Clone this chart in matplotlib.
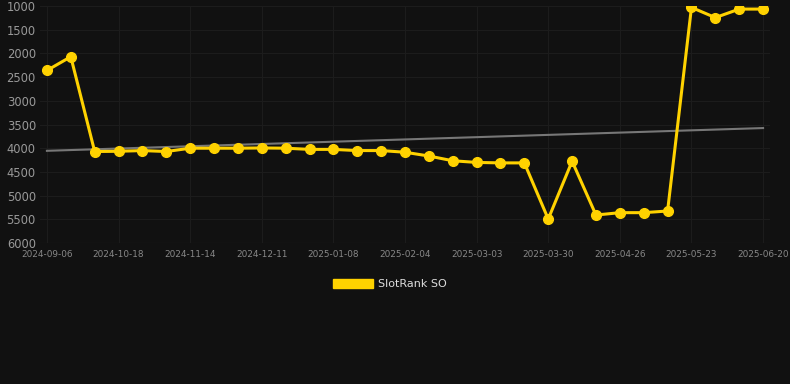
import numpy as np
import matplotlib
matplotlib.use("Agg")
import matplotlib.pyplot as plt
from matplotlib.patches import Patch

# rank values (lower is better, axis inverted)
dates = ["2024-09-06", "", "", "2024-10-18", "", "", "2024-11-14", "", "",
         "2024-12-11", "", "", "2025-01-08", "", "", "2025-02-04", "", "",
         "2025-03-03", "", "", "2025-03-30", "", "", "2025-04-26", "", "",
         "2025-05-23", "", "", "2025-06-20"]
rank = [2360, 2070, 4070, 4065, 4050, 4070, 4000, 4000, 4000, 3995, 4000,
        4025, 4025, 4050, 4050, 4085, 4165, 4265, 4300, 4310, 4310, 5495,
        4275, 5410, 5360, 5360, 5325, 1030, 1245, 1065, 1065]
trend = [4055, 3575]  # start / end of the grey trend line

bg = "#111111"
fig = plt.figure(figsize=(7.9, 3.84), dpi=100, facecolor=bg)
ax = fig.add_axes([40 / 790, 1 - 243 / 384, 730 / 790, 237 / 384], facecolor=bg)

x = np.arange(len(rank))
ax.plot([x[0], x[-1]], trend, color="#777777", lw=1.5, zorder=2)
ax.plot(x, rank, color="#FFD200", lw=2.2, marker="o", ms=7, zorder=3)

ax.set_ylim(6000, 1000)
ax.set_yticks(np.arange(1000, 6001, 500))
ax.set_xlim(-0.29, 30.29)
ticks = [i for i, d in enumerate(dates) if d]
ax.set_xticks(ticks)
ax.set_xticklabels([dates[i] for i in ticks])

ax.grid(True, color="#1c1c1c", lw=0.8)
ax.axhline(6000, color="#2a2a2a", lw=0.8, zorder=1)
ax.set_axisbelow(True)
for s in ax.spines.values():
    s.set_visible(False)
ax.tick_params(axis="y", colors="#999999", labelsize=8.3, length=0, pad=3)
ax.tick_params(axis="x", colors="#888888", labelsize=6.4, length=0, pad=5)

handle = Patch(facecolor="#FFD200", edgecolor="#FFD200")
fig.legend([handle], ["SlotRank SO"], loc="center", bbox_to_anchor=(390 / 790, 1 - 284 / 384),
           frameon=False, fontsize=8, labelcolor="#dddddd", handlelength=3.6,
           handleheight=0.9, handletextpad=0.5)

fig.savefig("out.png", dpi=100, facecolor=bg)
